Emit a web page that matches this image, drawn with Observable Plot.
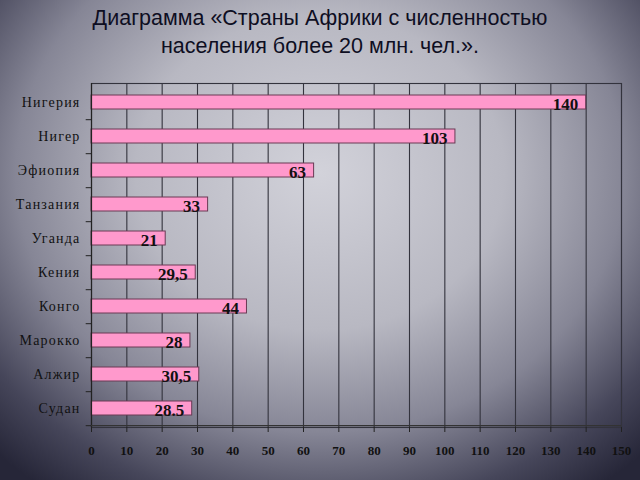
<!DOCTYPE html>
<html>
<head>
<meta charset="utf-8">
<script src="https://cdn.jsdelivr.net/npm/d3@7"></script>
<script src="https://cdn.jsdelivr.net/npm/@observablehq/plot@0.6"></script>
<style>
  html, body { margin: 0; padding: 0; }
  body {
    width: 640px; height: 480px; overflow: hidden;
    background: radial-gradient(ellipse 72% 82% at 50% 36%, #d2d2da 0%, #b8b8c2 40%, #868696 66%, #46465a 86%, #262638 100%);
  }
  #title {
    height: 70px; box-sizing: border-box; padding-top: 4px;
    text-align: center; font-family: "Liberation Sans", Arial, sans-serif;
    font-size: 21.5px; line-height: 28px; color: #0e0e22;
  }
  #chart svg { display: block; background: transparent; }
</style>
</head>
<body>
<div id="title">Диаграмма «Страны Африки с численностью<br>населения более 20 млн. чел.».</div>
<div id="chart"></div>
<script>
const countries = ["Нигерия", "Нигер", "Эфиопия", "Танзания", "Уганда", "Кения", "Конго", "Марокко", "Алжир", "Судан"];
const population = [140, 103, 63, 33, 21, 29.5, 44, 28, 30.5, 28.5];
const valueLabels = ["140", "103", "63", "33", "21", "29,5", "44", "28", "30,5", "28.5"];
const xTicks = [0, 10, 20, 30, 40, 50, 60, 70, 80, 90, 100, 110, 120, 130, 140, 150];

const data = countries.map((c, i) => ({country: c, value: population[i], label: valueLabels[i]}));

const H = 410, mt = 13, mb = 53;
const step = (H - mt - mb) / 10;

const chart = Plot.plot({
  width: 640,
  height: H,
  marginTop: mt,
  marginBottom: mb,
  marginLeft: 91,
  marginRight: 19,
  style: {background: "transparent", overflow: "visible"},
  x: {domain: [0, 150], ticks: xTicks, label: null},
  y: {domain: countries, paddingInner: 0.6, paddingOuter: 0.3, label: null},
  marks: [
    Plot.ruleX(xTicks.slice(1), {stroke: "#33333d", strokeWidth: 1.1}),
    Plot.frame({stroke: "#33333d", strokeWidth: 1.1}),
    Plot.barX(data, {x: "value", y: "country", fill: "#ff99cc", stroke: "#6a3a55", strokeWidth: 1}),
    Plot.text(data, {x: "value", y: "country", text: "label", textAnchor: "end", dx: -8, dy: 2,
      fontFamily: "Liberation Serif, Times New Roman, serif", fontWeight: "bold", fontSize: 17, fill: "#111"}),
    Plot.ruleY(countries, {y: d => d, x1: 0, x2: -1.5, dy: step / 2, stroke: "#222", strokeWidth: 1}),
    Plot.ruleX([0], {stroke: "#222", strokeWidth: 1.2}),
    Plot.ruleY([0], {y: () => countries[9], x1: 0, x2: 150, dy: step / 2, stroke: "#333", strokeWidth: 1.2}),
    Plot.axisX({ticks: xTicks, tickSize: 5, tickPadding: 13, stroke: "#222", fill: "#111",
      fontFamily: "Liberation Serif, Times New Roman, serif", fontSize: 13, fontWeight: "bold", label: null}),
    Plot.axisY({tickSize: 0, tickPadding: 11, fill: "#111",
      fontFamily: "Liberation Serif, Times New Roman, serif", fontSize: 14, label: null})
  ]
});
chart.querySelectorAll('[aria-label="y-axis tick label"] text').forEach(t => t.setAttribute("letter-spacing", "1.2"));
document.getElementById("chart").appendChild(chart);
</script>
</body>
</html>
